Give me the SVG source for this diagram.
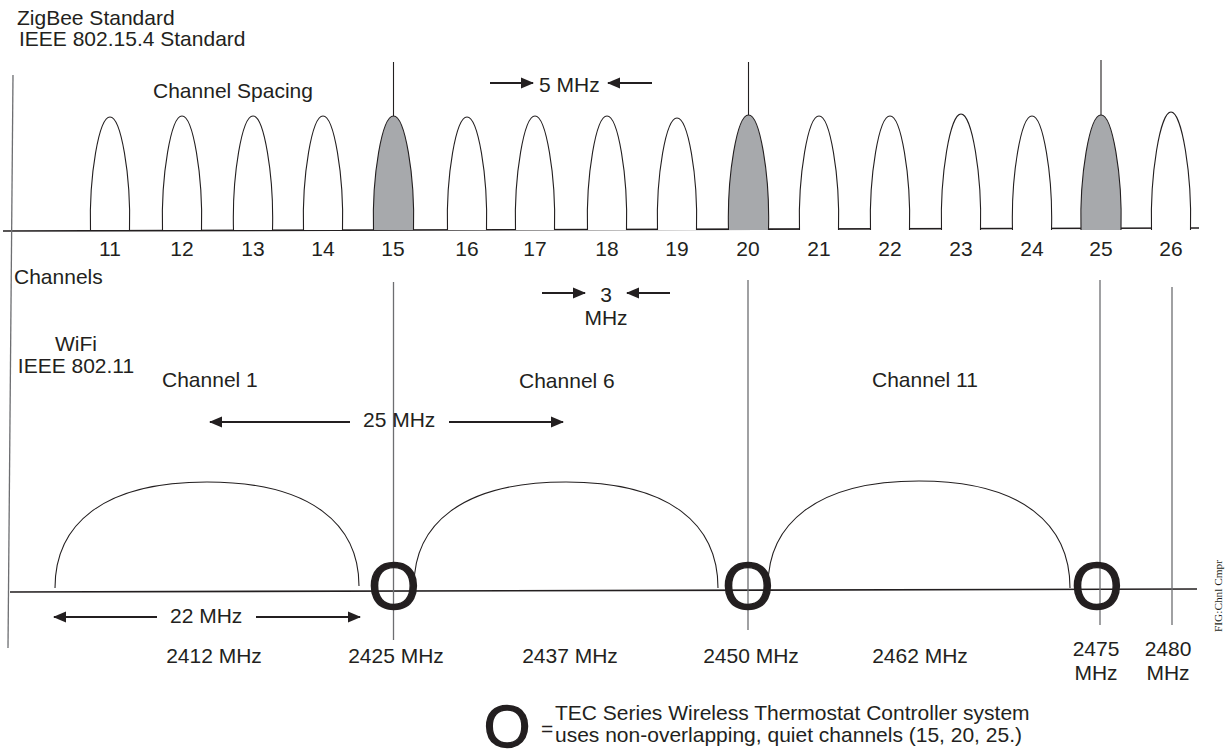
<svg xmlns="http://www.w3.org/2000/svg" width="1228" height="751" viewBox="0 0 1228 751">
<defs>
<style>
text{font-family:"Liberation Sans",Arial,sans-serif;font-size:21px;fill:#231f20}
.m{text-anchor:middle}
.lobe{fill:#fff;stroke:#231f20;stroke-width:1.1}
.lobe.on{fill:#a7a9ac}
.axis{stroke:#231f20;stroke-width:1.6;fill:none}
.vl{stroke:#231f20;stroke-width:1.1}
.vl2{stroke:#6d6e71;stroke-width:1.3}
.arc{fill:none;stroke:#231f20;stroke-width:1.1}
.arr{stroke:#231f20;stroke-width:2;marker-end:url(#ah)}
.big{font-size:66px;text-anchor:middle;stroke:#231f20;stroke-width:1.4}
</style>
<marker id="ah" markerWidth="14" markerHeight="12" refX="12" refY="6" orient="auto" markerUnits="userSpaceOnUse"><path d="M0,0.5 L13,6 L0,11.5 z" fill="#231f20"/></marker>
</defs>
<rect width="1228" height="751" fill="#fff"/>

<g id="titles">
<text x="17" y="25">ZigBee Standard</text>
<text x="19" y="46">IEEE 802.15.4 Standard</text>
<text x="153" y="98">Channel Spacing</text>
<text x="14" y="284">Channels</text>
<text x="76" y="351" class="m">WiFi</text>
<text x="76" y="373" class="m">IEEE 802.11</text>
</g>

<g id="axes">
<line class="axis" x1="3" y1="231" x2="1199" y2="228"/>
<line class="axis" x1="10" y1="592" x2="1197" y2="589"/>
<line class="vl2" x1="13" y1="75" x2="8" y2="648"/>
<line class="vl" x1="393.5" y1="62" x2="393.5" y2="117"/>
<line class="vl" x1="748.5" y1="62" x2="748.5" y2="115"/>
<line class="vl" x1="1101" y1="60" x2="1101" y2="115"/>
<line class="vl2" x1="393.5" y1="282" x2="393.5" y2="640"/>
<line class="vl2" x1="748" y1="280" x2="748" y2="630"/>
<line class="vl2" x1="1100" y1="280" x2="1100" y2="625"/>
<line class="vl2" x1="1172" y1="287" x2="1172" y2="625"/>
</g>

<g id="zigbee-channels">
<g id="ch11"><path class="lobe" d="M90.5,230 C89,175 99,117 110,117 C121,117 131,175 129.5,230"/><text x="110" y="256" class="m">11</text></g>
<g id="ch12"><path class="lobe" d="M162.5,230 C161,175 171,116 182,116 C193,116 203,175 201.5,230"/><text x="182" y="256" class="m">12</text></g>
<g id="ch13"><path class="lobe" d="M233.5,230 C232,175 242,116 253,116 C264,116 274,175 272.5,230"/><text x="253" y="256" class="m">13</text></g>
<g id="ch14"><path class="lobe" d="M303.5,230 C302,175 312,116 323,116 C334,116 344,175 342.5,230"/><text x="323" y="256" class="m">14</text></g>
<g id="ch15"><path class="lobe on" d="M373.5,230 C372,175 382,116 393.5,116 C405,116 415,175 413.5,230"/><text x="393" y="256" class="m">15</text></g>
<g id="ch16"><path class="lobe" d="M447.5,230 C446,175 456,117 467,117 C478,117 488,175 486.5,230"/><text x="467" y="256" class="m">16</text></g>
<g id="ch17"><path class="lobe" d="M515.5,230 C514,175 524,116 535,116 C546,116 556,175 554.5,230"/><text x="535" y="256" class="m">17</text></g>
<g id="ch18"><path class="lobe" d="M587.5,230 C586,175 596,116 607,116 C618,116 628,175 626.5,230"/><text x="607" y="256" class="m">18</text></g>
<g id="ch19"><path class="lobe" d="M657.5,230 C656,175 666,118 677,118 C688,118 698,175 696.5,230"/><text x="677" y="256" class="m">19</text></g>
<g id="ch20"><path class="lobe on" d="M728.5,230 C727,175 737,115 748.5,115 C760,115 770,175 768.5,230"/><text x="748" y="256" class="m">20</text></g>
<g id="ch21"><path class="lobe" d="M799.5,230 C798,175 808,116 819,116 C830,116 840,175 838.5,230"/><text x="819" y="256" class="m">21</text></g>
<g id="ch22"><path class="lobe" d="M870.5,230 C869,175 879,116 890,116 C901,116 911,175 909.5,230"/><text x="890" y="256" class="m">22</text></g>
<g id="ch23"><path class="lobe" d="M941.5,230 C940,175 950,114 961,114 C972,114 982,175 980.5,230"/><text x="961" y="256" class="m">23</text></g>
<g id="ch24"><path class="lobe" d="M1012.5,230 C1011,175 1021,116 1032,116 C1043,116 1053,175 1051.5,230"/><text x="1032" y="256" class="m">24</text></g>
<g id="ch25"><path class="lobe on" d="M1081,230 C1079.5,175 1089.5,115 1101,115 C1112.5,115 1122.5,175 1121,230"/><text x="1101" y="256" class="m">25</text></g>
<g id="ch26"><path class="lobe" d="M1151.5,230 C1150,175 1160,112 1171,112 C1182,112 1192,175 1190.5,230"/><text x="1171" y="256" class="m">26</text></g>
</g>

<g id="wifi-channels">
<g id="wifi1"><path class="arc" d="M55,588 C55,525 102,482 207,482 C312,482 359,525 359,586"/><text x="162" y="387">Channel 1</text></g>
<g id="wifi6"><path class="arc" d="M414,586 C414,525 461,482 566,482 C671,482 718,525 718,588"/><text x="519" y="388">Channel 6</text></g>
<g id="wifi11"><path class="arc" d="M768,586 C768,525 815,481 919,481 C1023,481 1070,525 1070,588"/><text x="872" y="387">Channel 11</text></g>
</g>

<g id="quiet-markers">
<text x="394" y="609" class="big">O</text>
<text x="748" y="609" class="big">O</text>
<text x="1097" y="609" class="big">O</text>
</g>

<g id="connectors">
<line class="arr" x1="490" y1="83" x2="533" y2="83"/>
<line class="arr" x1="652" y1="83" x2="608" y2="83"/>
<line class="arr" x1="542" y1="293" x2="585" y2="293"/>
<line class="arr" x1="670" y1="293" x2="627" y2="293"/>
<line class="arr" x1="350" y1="422" x2="210" y2="422"/>
<line class="arr" x1="449" y1="422" x2="563" y2="422"/>
<line class="arr" x1="157" y1="617" x2="54" y2="617"/>
<line class="arr" x1="256" y1="617" x2="360" y2="617"/>
</g>

<g id="measure-labels">
<text x="539" y="92">5 MHz</text>
<text x="606" y="302" class="m">3</text>
<text x="606" y="325" class="m">MHz</text>
<text x="363" y="427">25 MHz</text>
<text x="170" y="623">22 MHz</text>
</g>

<g id="freq-labels">
<text x="214" y="663" class="m">2412 MHz</text>
<text x="396" y="663" class="m">2425 MHz</text>
<text x="570" y="663" class="m">2437 MHz</text>
<text x="751" y="663" class="m">2450 MHz</text>
<text x="920" y="663" class="m">2462 MHz</text>
<text x="1096" y="656" class="m">2475</text>
<text x="1096" y="680" class="m">MHz</text>
<text x="1168" y="656" class="m">2480</text>
<text x="1168" y="680" class="m">MHz</text>
</g>

<g id="legend">
<text x="507" y="747" style="font-size:60px;text-anchor:middle;stroke:#231f20;stroke-width:1.4">O</text>
<text x="541" y="736">=</text>
<text x="555" y="720">TEC Series Wireless Thermostat Controller system</text>
<text x="555" y="742">uses non-overlapping, quiet channels (15, 20, 25.)</text>
</g>

<text transform="translate(1222,632) rotate(-90)" style="font-family:'Liberation Serif',serif;font-size:10px" textLength="72" lengthAdjust="spacingAndGlyphs">FIG:Chnl Cmpr</text>
</svg>
